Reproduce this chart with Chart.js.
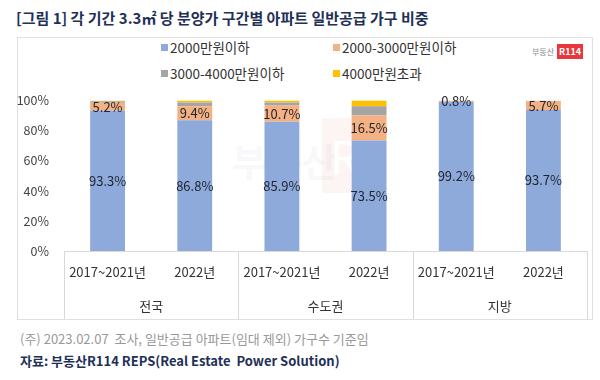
<!DOCTYPE html>
<html>
<head>
<meta charset="utf-8">
<script src="https://cdn.jsdelivr.net/npm/chart.js@4"></script>
<style>
    body { margin: 0; background: #fff; font-family: "Noto Sans CJK KR", "Noto Sans", sans-serif; }
    #wrap { position: relative; width: 600px; height: 380px; overflow: hidden; }
    #title { position: absolute; left: 16px; top: 7px; font-size: 15px; font-weight: bold; color: #1f3056; white-space: nowrap; }
    #box { position: absolute; left: 17px; top: 37px; width: 574px; height: 281px; border: 1px solid #e0e0e0; }
    .leg { position: absolute; font-size: 13.5px; color: #333; white-space: nowrap; line-height: 16px; }
    .leg i { display: inline-block; width: 7px; height: 7px; margin-right: 2px; vertical-align: 2px; }
    #logo { position: absolute; left: 532px; top: 44px; font-size: 8px; color: #888; white-space: nowrap; }
    #logo b { display: inline-block; background: #e8383d; color: #fff; font-size: 9px; padding: 1px 2px; margin-left: 3px; }
    #wm1 { position: absolute; left: 232px; top: 132px; font-size: 38px; font-weight: bold; color: rgba(200,205,215,0.15); }
    #wm2 { position: absolute; left: 322px; top: 118px; width: 56px; height: 75px; background: rgba(240,150,150,0.10); color: #fff; font-size: 46px; line-height: 75px; padding-left: 8px; box-sizing: border-box; }
    #cv { position: absolute; left: 17px; top: 86px; }
    #note { position: absolute; left: 20px; top: 329px; font-size: 13px; color: #999; white-space: nowrap; }
    #src { position: absolute; left: 20px; top: 351px; font-size: 13px; font-weight: bold; color: #1f3056; white-space: nowrap; }
</style>
</head>
<body>
<div id="wrap">
    <div id="title">[그림 1] 각 기간 3.3㎡ 당 분양가 구간별 아파트 일반공급 가구 비중</div>
    <div id="box"></div>
    <div id="wm1">부동산</div>
    <div id="wm2">R</div>
    <div id="logo">부동산<b>R114</b></div>
    <div id="legend"></div>
    <canvas id="cv" width="575" height="233"></canvas>
    <div id="note">(주) 2023.02.07&nbsp; 조사, 일반공급 아파트(임대 제외) 가구수 기준임</div>
    <div id="src">자료: 부동산R114 REPS(Real Estate&nbsp; Power Solution)</div>
</div>
<script>
var periods = ['2017~2021년', '2022년', '2017~2021년', '2022년', '2017~2021년', '2022년'];
var regions = ['전국', '수도권', '지방'];
var seriesNames = ['2000만원이하', '2000-3000만원이하', '3000-4000만원이하', '4000만원초과'];
var colors = ['#8eaadb', '#f4b183', '#a5a5a5', '#ffc000'];

var under2000 = [93.3, 86.8, 85.9, 73.5, 99.2, 93.7];
var from2000to3000 = [5.2, 9.4, 10.7, 16.5, 0.8, 5.7];
var from3000to4000 = [1.0, 2.4, 2.0, 6.2, 0, 0.4];
var over4000 = [0.5, 1.4, 1.4, 3.8, 0, 0.2];

var yTicks = [0, 20, 40, 60, 80, 100];

// legend, two items per row
var legendPos = [[161, 39], [333, 39], [161, 65], [333, 65]];
var legendHtml = '';
seriesNames.forEach(function(name, i) {
    legendHtml += '<div class="leg" style="left:' + legendPos[i][0] + 'px;top:' + legendPos[i][1] + 'px">' +
        '<i style="background:' + colors[i] + '"></i>' + name + '</div>';
});
document.getElementById('legend').innerHTML = legendHtml;

var valueLabels = {
    id: 'valueLabels',
    afterDatasetsDraw: function(chart) {
        var ctx = chart.ctx;
        ctx.save();
        ctx.font = '13px "Noto Sans CJK KR", "Noto Sans", sans-serif';
        ctx.fillStyle = '#1e2430';
        ctx.textAlign = 'center';
        ctx.textBaseline = 'middle';
        [0, 1].forEach(function(di) {
            var meta = chart.getDatasetMeta(di);
            meta.data.forEach(function(bar, i) {
                var v = chart.data.datasets[di].data[i];
                if (!v) return;
                ctx.fillText(v.toFixed(1) + '%', bar.x, (bar.y + bar.base) / 2);
            });
        });
        ctx.restore();
    }
};

// vertical lines between region groups in the axis area
var groupLines = {
    id: 'groupLines',
    afterDraw: function(chart) {
        var xs = chart.scales.x;
        var ctx = chart.ctx;
        var xPos = [xs.left, (xs.getPixelForValue(1) + xs.getPixelForValue(2)) / 2,
            (xs.getPixelForValue(3) + xs.getPixelForValue(4)) / 2, xs.right];
        ctx.save();
        ctx.strokeStyle = '#d9d9d9';
        ctx.lineWidth = 1;
        xPos.forEach(function(x) {
            x = Math.round(x) + 0.5;
            ctx.beginPath();
            ctx.moveTo(x, xs.top);
            ctx.lineTo(x, chart.height);
            ctx.stroke();
        });
        ctx.restore();
    }
};

var allData = [under2000, from2000to3000, from3000to4000, over4000];

new Chart(document.getElementById('cv'), {
    type: 'bar',
    data: {
        labels: periods,
        datasets: allData.map(function(d, i) {
            return {
                label: seriesNames[i],
                data: d,
                backgroundColor: colors[i],
                borderWidth: 0,
                barPercentage: 0.4,
                categoryPercentage: 1
            };
        })
    },
    options: {
        responsive: false,
        animation: false,
        layout: { padding: { left: 0, right: 5, top: 14, bottom: 0 } },
        plugins: {
            legend: { display: false },
            tooltip: { enabled: false }
        },
        scales: {
            x: {
                stacked: true,
                grid: { display: false },
                border: { display: true, color: '#d9d9d9' },
                ticks: {
                    color: '#333',
                    padding: 5,
                    maxRotation: 0,
                    autoSkip: false,
                    font: { size: 13, family: '"Noto Sans CJK KR", "Noto Sans", sans-serif' }
                },
                afterFit: function(scale) { scale.height = 36; }
            },
            x2: {
                type: 'category',
                labels: regions,
                position: 'bottom',
                offset: true,
                grid: { display: false },
                border: { display: false },
                ticks: {
                    color: '#333',
                    padding: 3,
                    maxRotation: 0,
                    font: { size: 13, family: '"Noto Sans CJK KR", "Noto Sans", sans-serif' }
                },
                afterFit: function(scale) { scale.height = 32; }
            },
            y: {
                stacked: true,
                min: 0,
                max: 100,
                grid: { display: false },
                border: { display: false },
                afterBuildTicks: function(scale) {
                    scale.ticks = yTicks.map(function(v) { return { value: v }; });
                },
                ticks: {
                    color: '#444',
                    padding: 7,
                    font: { size: 12.5, family: '"Noto Sans CJK KR", "Noto Sans", sans-serif' },
                    callback: function(value) { return value + '%'; }
                },
                afterFit: function(scale) { scale.width = 47; }
            }
        }
    },
    plugins: [valueLabels, groupLines]
});
</script>
</body>
</html>
